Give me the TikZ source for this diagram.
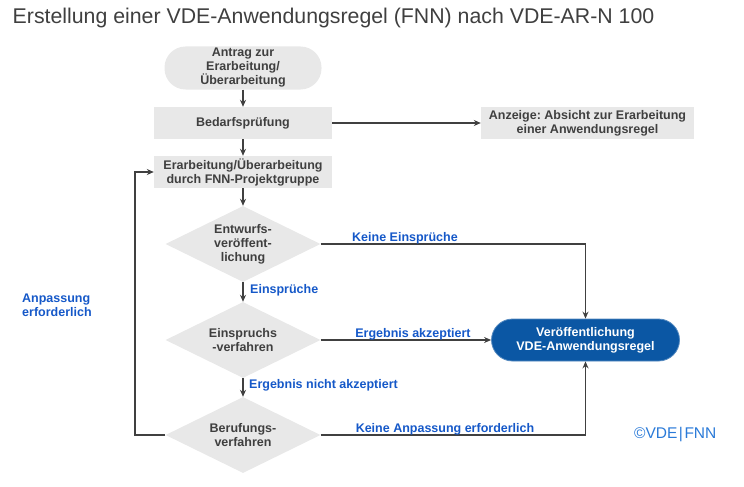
\documentclass[tikz,border=0pt]{standalone}
\usepackage{fontspec}
\setmainfont{Liberation Sans}
\usetikzlibrary{shapes.geometric,arrows.meta}
\frenchspacing
\definecolor{boxgray}{HTML}{E8E8E8}
\definecolor{txtgray}{HTML}{3F3F3F}
\definecolor{linegray}{HTML}{404040}
\definecolor{lblblue}{HTML}{1558C8}
\definecolor{vdeblue}{HTML}{0B57A4}
\definecolor{copyblue}{HTML}{2A7AD8}
\tikzset{
  base/.style={font=\bfseries\fontsize{12.5}{14}\selectfont, text=txtgray, align=center, inner sep=0pt},
  term/.style={base, fill=boxgray, rounded corners=21pt, minimum width=157pt, minimum height=43pt},
  procbox/.style={base, fill=boxgray, minimum width=178pt, minimum height=32pt},
  decision/.style={base, fill=boxgray, shape=diamond, aspect=2, minimum width=155pt, minimum height=76pt},
  pub/.style={base, text=white, fill=vdeblue, draw=vdeblue!70!white, line width=0.8pt, rounded corners=21pt, minimum width=188pt, minimum height=42pt},
  conn/.style={draw=linegray, line width=1.3pt, -{Stealth[length=7pt,width=6pt]}},
  lbl/.style={font=\bfseries\fontsize{12.5}{14}\selectfont, text=lblblue, inner sep=0pt, align=left}
}
\begin{document}
\begin{tikzpicture}[x=1pt,y=-1pt]
\useasboundingbox (0,0) rectangle (744,487);
\node[anchor=west, inner sep=0pt, text=txtgray, font=\fontsize{21.3}{24}\selectfont] (title) at (12.5,18) {Erstellung einer VDE-Anwendungsregel (FNN) nach VDE-AR-N 100};

\node[term] (start) at (243,68) {Antrag zur\\Erarbeitung/\\Überarbeitung};
\node[procbox] (bed) at (243,123) {Bedarfsprüfung};
\node[procbox, minimum width=213pt] (anz) at (587.5,123) {Anzeige: Absicht zur Erarbeitung\\einer Anwendungsregel};
\node[procbox] (era) at (243,172) {Erarbeitung/Überarbeitung\\durch FNN-Projektgruppe};
\node[decision] (d1) at (243,244) {Entwurfs-\\veröffent-\\lichung};
\node[decision] (d2) at (243,340) {Einspruchs\\-verfahren};
\node[decision] (d3) at (243,435) {Berufungs-\\verfahren};
\node[pub] (ver) at (585.5,340) {Veröffentlichung\\VDE-Anwendungsregel};

\coordinate (back) at (135,435);

\draw[conn] (start) -- (bed);
\draw[conn] (bed) -- (anz);
\draw[conn] (bed) -- (era);
\draw[conn] (era) -- (d1);
\draw[conn] (d1.east) -| (ver.north);
\draw[conn] (d1) -- (d2);
\draw[conn] (d2) -- (ver);
\draw[conn] (d2) -- (d3);
\draw[conn] (d3.east) -| (ver.south);
\draw[conn] (d3.west) -- (back) |- (era.west);

\node[lbl] (l1) at (405,238) {Keine Einsprüche};
\node[lbl, anchor=west] (l2) at (250,290) {Einsprüche};
\node[lbl] (l3) at (413,334) {Ergebnis akzeptiert};
\node[lbl, anchor=west] (l4) at (249,385) {Ergebnis nicht akzeptiert};
\node[lbl] (l5) at (445,429.5) {Keine Anpassung erforderlich};
\node[lbl, anchor=west] (l6) at (22,305) {Anpassung\\erforderlich};
\node[anchor=west, inner sep=0pt, text=copyblue, font=\fontsize{15.5}{18}\selectfont] (copy) at (634,435) {©VDE\kern1.5pt|\kern1.5pt FNN};
\end{tikzpicture}
\end{document}
